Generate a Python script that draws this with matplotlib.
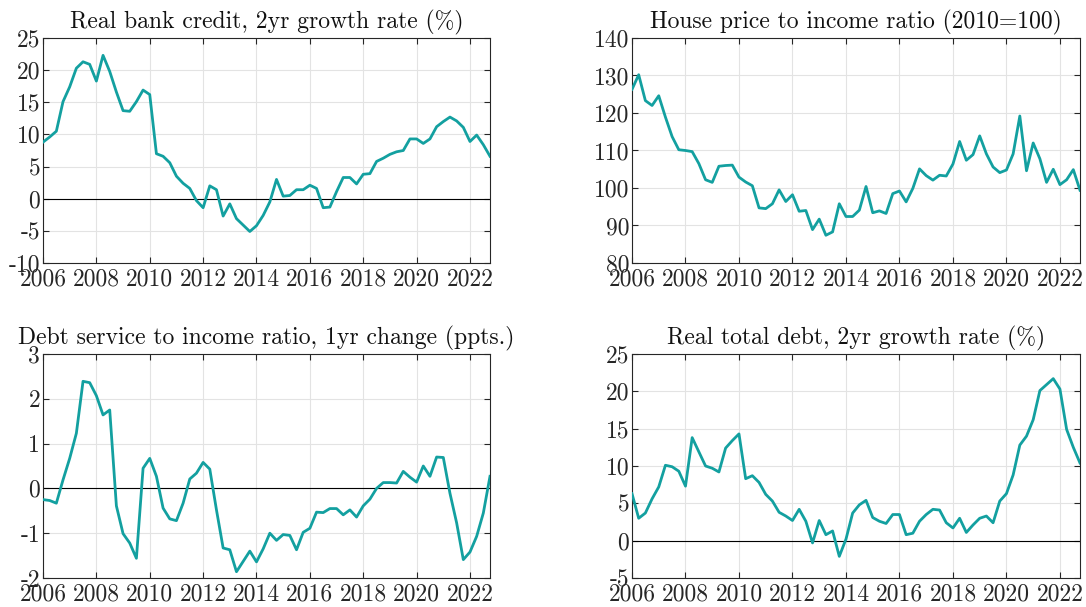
import numpy as np
import matplotlib
matplotlib.use("Agg")
import matplotlib.pyplot as plt

plt.rcParams['font.family'] = 'serif'
plt.rcParams['font.serif'] = ['cmr10']
plt.rcParams['axes.unicode_minus'] = False
plt.rcParams['axes.formatter.use_mathtext'] = False

# quarterly, 2006Q1 .. 2022Q4
t = 2006 + np.arange(68) / 4

bank_credit = [8.8, 9.6, 10.5, 15.1, 17.4, 20.3, 21.3, 20.9, 18.3, 22.3,
               19.8, 16.6, 13.7, 13.6, 15.1, 16.9, 16.2, 7.0, 6.6, 5.6,
               3.5, 2.4, 1.6, -0.3, -1.4, 2.0, 1.4, -2.7, -0.8, -3.1,
               -4.1, -5.1, -4.2, -2.6, -0.5, 3.0, 0.4, 0.5, 1.4, 1.4,
               2.1, 1.6, -1.4, -1.3, 1.1, 3.3, 3.3, 2.3, 3.8, 3.9,
               5.8, 6.3, 6.9, 7.3, 7.5, 9.3, 9.3, 8.6, 9.3, 11.2,
               12.0, 12.7, 12.1, 11.1, 8.9, 9.9, 8.4, 6.6]

house_price = [126.3, 130.2, 123.3, 122.0, 124.6, 118.9, 113.7, 110.2, 110.0, 109.7,
               106.5, 102.2, 101.5, 105.8, 106.0, 106.1, 102.9, 101.6, 100.6, 94.7,
               94.5, 95.8, 99.5, 96.4, 98.2, 93.8, 94.0, 88.9, 91.7, 87.4,
               88.3, 95.8, 92.4, 92.4, 94.1, 100.4, 93.4, 93.9, 93.2, 98.5,
               99.2, 96.3, 99.9, 105.1, 103.3, 102.1, 103.4, 103.2, 106.4, 112.4,
               107.4, 108.9, 113.9, 109.1, 105.6, 104.1, 104.8, 109.1, 119.2, 104.6,
               112.0, 107.8, 101.5, 105.0, 100.9, 102.2, 104.9, 99.4]

debt_service = [-0.25, -0.27, -0.33, 0.19, 0.67, 1.23, 2.39, 2.36, 2.07, 1.64,
                1.75, -0.39, -1.01, -1.22, -1.56, 0.45, 0.67, 0.27, -0.44, -0.68,
                -0.72, -0.33, 0.21, 0.34, 0.58, 0.43, -0.48, -1.33, -1.37, -1.86,
                -1.63, -1.40, -1.64, -1.35, -1.00, -1.16, -1.03, -1.05, -1.37, -0.98,
                -0.89, -0.53, -0.54, -0.45, -0.45, -0.59, -0.48, -0.64, -0.39, -0.24,
                0.0, 0.13, 0.13, 0.12, 0.38, 0.25, 0.14, 0.50, 0.27, 0.70,
                0.69, -0.11, -0.77, -1.59, -1.42, -1.07, -0.55, 0.27]

total_debt = [6.3, 3.0, 3.7, 5.6, 7.2, 10.1, 9.9, 9.3, 7.3, 13.8,
              11.9, 10.0, 9.7, 9.2, 12.4, 13.4, 14.3, 8.3, 8.7, 7.8,
              6.2, 5.3, 3.8, 3.3, 2.7, 4.2, 2.6, -0.3, 2.7, 0.8,
              1.3, -2.1, 0.2, 3.7, 4.8, 5.4, 3.1, 2.6, 2.3, 3.5,
              3.5, 0.8, 1.0, 2.6, 3.5, 4.2, 4.1, 2.4, 1.7, 3.0,
              1.1, 2.1, 3.0, 3.3, 2.4, 5.3, 6.3, 8.8, 12.8, 14.0,
              16.2, 20.1, 20.9, 21.7, 20.3, 14.9, 12.5, 10.4]

titles = ['Real bank credit, 2yr growth rate (%)',
          'House price to income ratio (2010=100)',
          'Debt service to income ratio, 1yr change (ppts.)',
          'Real total debt, 2yr growth rate (%)']
series = [bank_credit, house_price, debt_service, total_debt]
ylims = [(-10, 25), (80, 140), (-2, 3), (-5, 25)]
yticks = [np.arange(-10, 26, 5), np.arange(80, 141, 10),
          np.arange(-2, 4, 1), np.arange(-5, 26, 5)]
zero_line = [True, False, True, True]
xticks = np.arange(2006, 2023, 2)

line_col = '#13a0a0'
txt_col = '#262626'

fig = plt.figure(figsize=(10.86, 6.07), dpi=100)
W, H = 1086.0, 607.0
boxes = [(43, 38, 490, 263), (632, 38, 1080, 263),
         (43, 354, 490, 578), (632, 354, 1080, 578)]

for i in range(4):
    l, tp, r, b = boxes[i]
    ax = fig.add_axes([l / W, 1 - b / H, (r - l) / W, (b - tp) / H])
    ax.plot(t, series[i], color=line_col, lw=2.0, zorder=3)
    if zero_line[i]:
        ax.axhline(0, color='black', lw=0.8, zorder=2)
    ax.set_xlim(t[0], t[-1])
    ax.set_ylim(*ylims[i])
    ax.set_xticks(xticks)
    ax.set_yticks(yticks[i])
    ax.grid(True, color='#e3e3e3', lw=0.8)
    ax.set_axisbelow(True)
    ax.tick_params(direction='in', top=True, right=True, length=4,
                   width=0.8, color=txt_col, labelcolor=txt_col,
                   labelsize=17)
    ax.tick_params(axis='y', pad=2)
    ax.tick_params(axis='x', pad=4)
    for s in ax.spines.values():
        s.set_color(txt_col)
        s.set_linewidth(0.8)
    ax.set_title(titles[i], fontsize=17, pad=7, color='#111111')

fig.savefig('out.png', dpi=100)
